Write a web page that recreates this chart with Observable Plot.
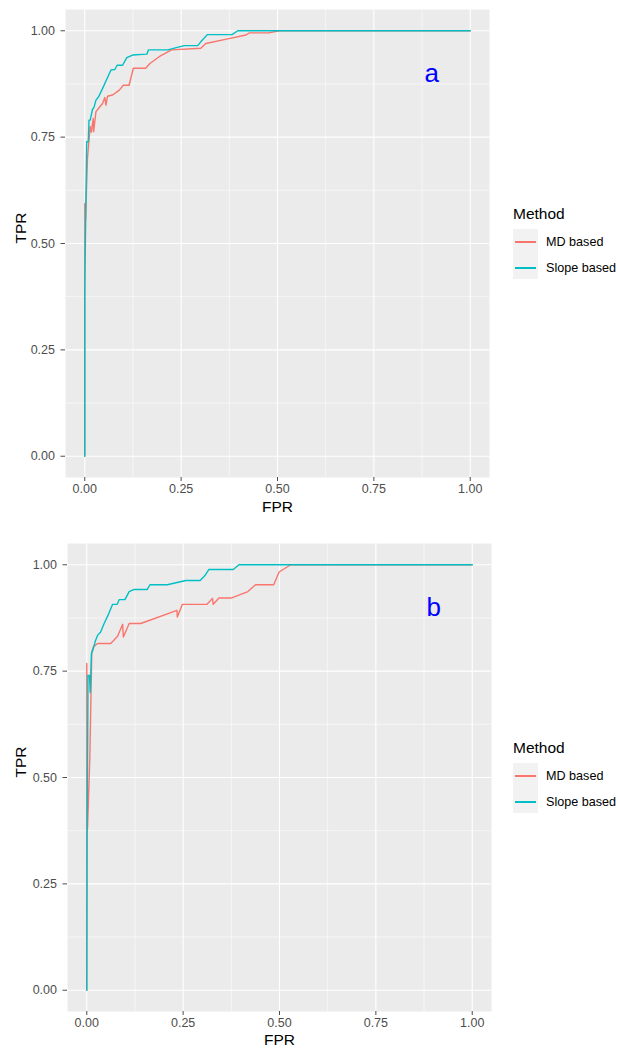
<!DOCTYPE html>
<html><head><meta charset="utf-8">
<script src="https://cdn.jsdelivr.net/npm/d3@7"></script>
<script src="https://cdn.jsdelivr.net/npm/@observablehq/plot@0.6"></script>
<style>
body{margin:0;background:#fff;font-family:"Liberation Sans",Arial,sans-serif;}
#wrap{position:relative;width:618px;height:1048px;overflow:hidden;background:#fff;}
.chart{position:absolute;left:0;}
.legend{position:absolute;left:513px;color:#000;}
.legend .title{position:absolute;left:0;font-size:15.5px;line-height:18px;white-space:nowrap;}
.legend .keys{position:absolute;left:0;width:25px;height:50px;background:#F2F2F2;}
.legend .key{position:absolute;left:2px;width:21px;height:1.5px;}
.legend .lab{position:absolute;left:33px;font-size:12.6px;line-height:14px;white-space:nowrap;}
</style></head><body><div id="wrap"></div>
<script>
const methods = ["MD based", "Slope based"];
const methodColors = ["#F8766D", "#00BFC4"];
const majorTicks = [0, 0.25, 0.5, 0.75, 1];
const minorTicks = [0.125, 0.375, 0.625, 0.875];
const panelLabels = ["a", "b"];
const panelLabelPos = [0.9, 0.9];
const legendTitle = "Method";

// panel a : [FPR, TPR]
const mdBasedA = [[0,0],[0,0.594],[0.002,0.556],[0.007,0.70],[0.011,0.743],[0.014,0.775],[0.017,0.762],[0.022,0.794],[0.023,0.763],[0.029,0.810],[0.036,0.818],[0.046,0.829],[0.052,0.843],[0.055,0.825],[0.059,0.846],[0.072,0.849],[0.089,0.860],[0.100,0.872],[0.115,0.872],[0.126,0.912],[0.158,0.912],[0.169,0.923],[0.193,0.939],[0.225,0.955],[0.301,0.959],[0.314,0.970],[0.371,0.981],[0.418,0.990],[0.427,0.995],[0.477,0.995],[0.505,1],[1,1]];
const slopeBasedA = [[0,0],[0,0.40],[0.003,0.60],[0.005,0.739],[0.009,0.739],[0.011,0.79],[0.014,0.79],[0.020,0.815],[0.024,0.82],[0.029,0.837],[0.036,0.845],[0.046,0.864],[0.057,0.886],[0.068,0.908],[0.078,0.909],[0.084,0.919],[0.098,0.919],[0.109,0.937],[0.124,0.943],[0.161,0.945],[0.165,0.955],[0.215,0.955],[0.258,0.965],[0.293,0.965],[0.301,0.974],[0.318,0.991],[0.382,0.991],[0.397,1],[1,1]];
// panel b : [FPR, TPR]
const mdBasedB = [[0,0],[0,0.768],[0.002,0.38],[0.008,0.55],[0.013,0.795],[0.017,0.807],[0.028,0.815],[0.062,0.815],[0.080,0.832],[0.093,0.860],[0.095,0.830],[0.110,0.862],[0.140,0.862],[0.234,0.893],[0.235,0.877],[0.248,0.907],[0.312,0.907],[0.326,0.921],[0.328,0.907],[0.343,0.922],[0.376,0.922],[0.418,0.937],[0.438,0.953],[0.485,0.953],[0.499,0.983],[0.529,1],[1,1]];
const slopeBasedB = [[0,0],[0.001,0.40],[0.003,0.69],[0.003,0.74],[0.007,0.74],[0.009,0.70],[0.012,0.791],[0.016,0.80],[0.022,0.82],[0.028,0.834],[0.036,0.842],[0.045,0.862],[0.055,0.881],[0.067,0.907],[0.079,0.907],[0.084,0.918],[0.099,0.918],[0.110,0.937],[0.123,0.942],[0.157,0.942],[0.164,0.953],[0.209,0.953],[0.257,0.963],[0.294,0.963],[0.306,0.974],[0.317,0.989],[0.380,0.989],[0.395,1],[1,1]];

const FONT = '"Liberation Sans", Arial, sans-serif';

function makePanel(md, slope, label, m) {
  const rows = [
    ...md.map(([fpr, tpr]) => ({fpr, tpr, method: methods[0]})),
    ...slope.map(([fpr, tpr]) => ({fpr, tpr, method: methods[1]}))
  ];
  const gridOpts = (w) => ({stroke: "#FFFFFF", strokeOpacity: 1, strokeWidth: w});
  return Plot.plot({
    width: 618, height: m.height,
    marginLeft: m.left, marginRight: m.right, marginTop: m.top, marginBottom: m.bottom,
    style: {fontFamily: FONT, background: "transparent", overflow: "visible"},
    x: {domain: [-0.05, 1.05]},
    y: {domain: [-0.05, 1.05]},
    color: {domain: methods, range: methodColors},
    marks: [
      Plot.frame({fill: "#EBEBEB", stroke: null}),
      Plot.gridX(minorTicks, gridOpts(0.55)),
      Plot.gridY(minorTicks, gridOpts(0.55)),
      Plot.gridX(majorTicks, gridOpts(1.1)),
      Plot.gridY(majorTicks, gridOpts(1.1)),
      Plot.axisX({ticks: majorTicks, tickFormat: d3.format(".2f"), tickSize: 4, tickPadding: 3, fontSize: 12.5, color: "#4D4D4D", label: null}),
      Plot.axisY({ticks: majorTicks, tickFormat: d3.format(".2f"), tickSize: 4.5, tickPadding: 6, fontSize: 12.5, color: "#4D4D4D", label: null}),
      Plot.line(rows, {x: "fpr", y: "tpr", stroke: "method", z: "method", strokeWidth: 1.4}),
      Plot.text([label], {x: () => panelLabelPos[0], y: () => panelLabelPos[1], text: d => d, fill: "#0000FF", fontSize: 26}),
      Plot.text(["FPR"], {frameAnchor: "bottom", dy: m.xTitle, text: d => d, fontSize: 15.5, fill: "#000", lineAnchor: "middle"}),
      Plot.text(["TPR"], {frameAnchor: "left", dx: m.yTitle, rotate: -90, text: d => d, fontSize: 15.5, fill: "#000", lineAnchor: "middle"})
    ]
  });
}

function makeLegend(top) {
  const lg = document.createElement("div");
  lg.className = "legend";
  lg.style.top = top + "px";
  const t = document.createElement("div");
  t.className = "title"; t.textContent = legendTitle; t.style.top = "0px";
  lg.appendChild(t);
  const keys = document.createElement("div");
  keys.className = "keys"; keys.style.top = "24px";
  lg.appendChild(keys);
  methods.forEach((mth, i) => {
    const k = document.createElement("div");
    k.className = "key"; k.style.background = methodColors[i];
    k.style.top = (12 + i * 26) + "px";
    keys.appendChild(k);
    const l = document.createElement("div");
    l.className = "lab"; l.textContent = mth;
    l.style.top = (24 + 6 + i * 26) + "px";
    lg.appendChild(l);
  });
  return lg;
}

const wrap = document.getElementById("wrap");
const pa = makePanel(mdBasedA, slopeBasedA, panelLabels[0], {height: 520, left: 65, right: 129, top: 9, bottom: 43, xTitle: 30, yTitle: -44});
pa.classList.add("chart"); pa.style.top = "0px";
wrap.appendChild(pa);
const pb = makePanel(mdBasedB, slopeBasedB, panelLabels[1], {height: 528, left: 67, right: 127, top: 23, bottom: 37, xTitle: 29, yTitle: -46});
pb.classList.add("chart"); pb.style.top = "520px";
wrap.appendChild(pb);
wrap.appendChild(makeLegend(205));
wrap.appendChild(makeLegend(739));
</script></body></html>
